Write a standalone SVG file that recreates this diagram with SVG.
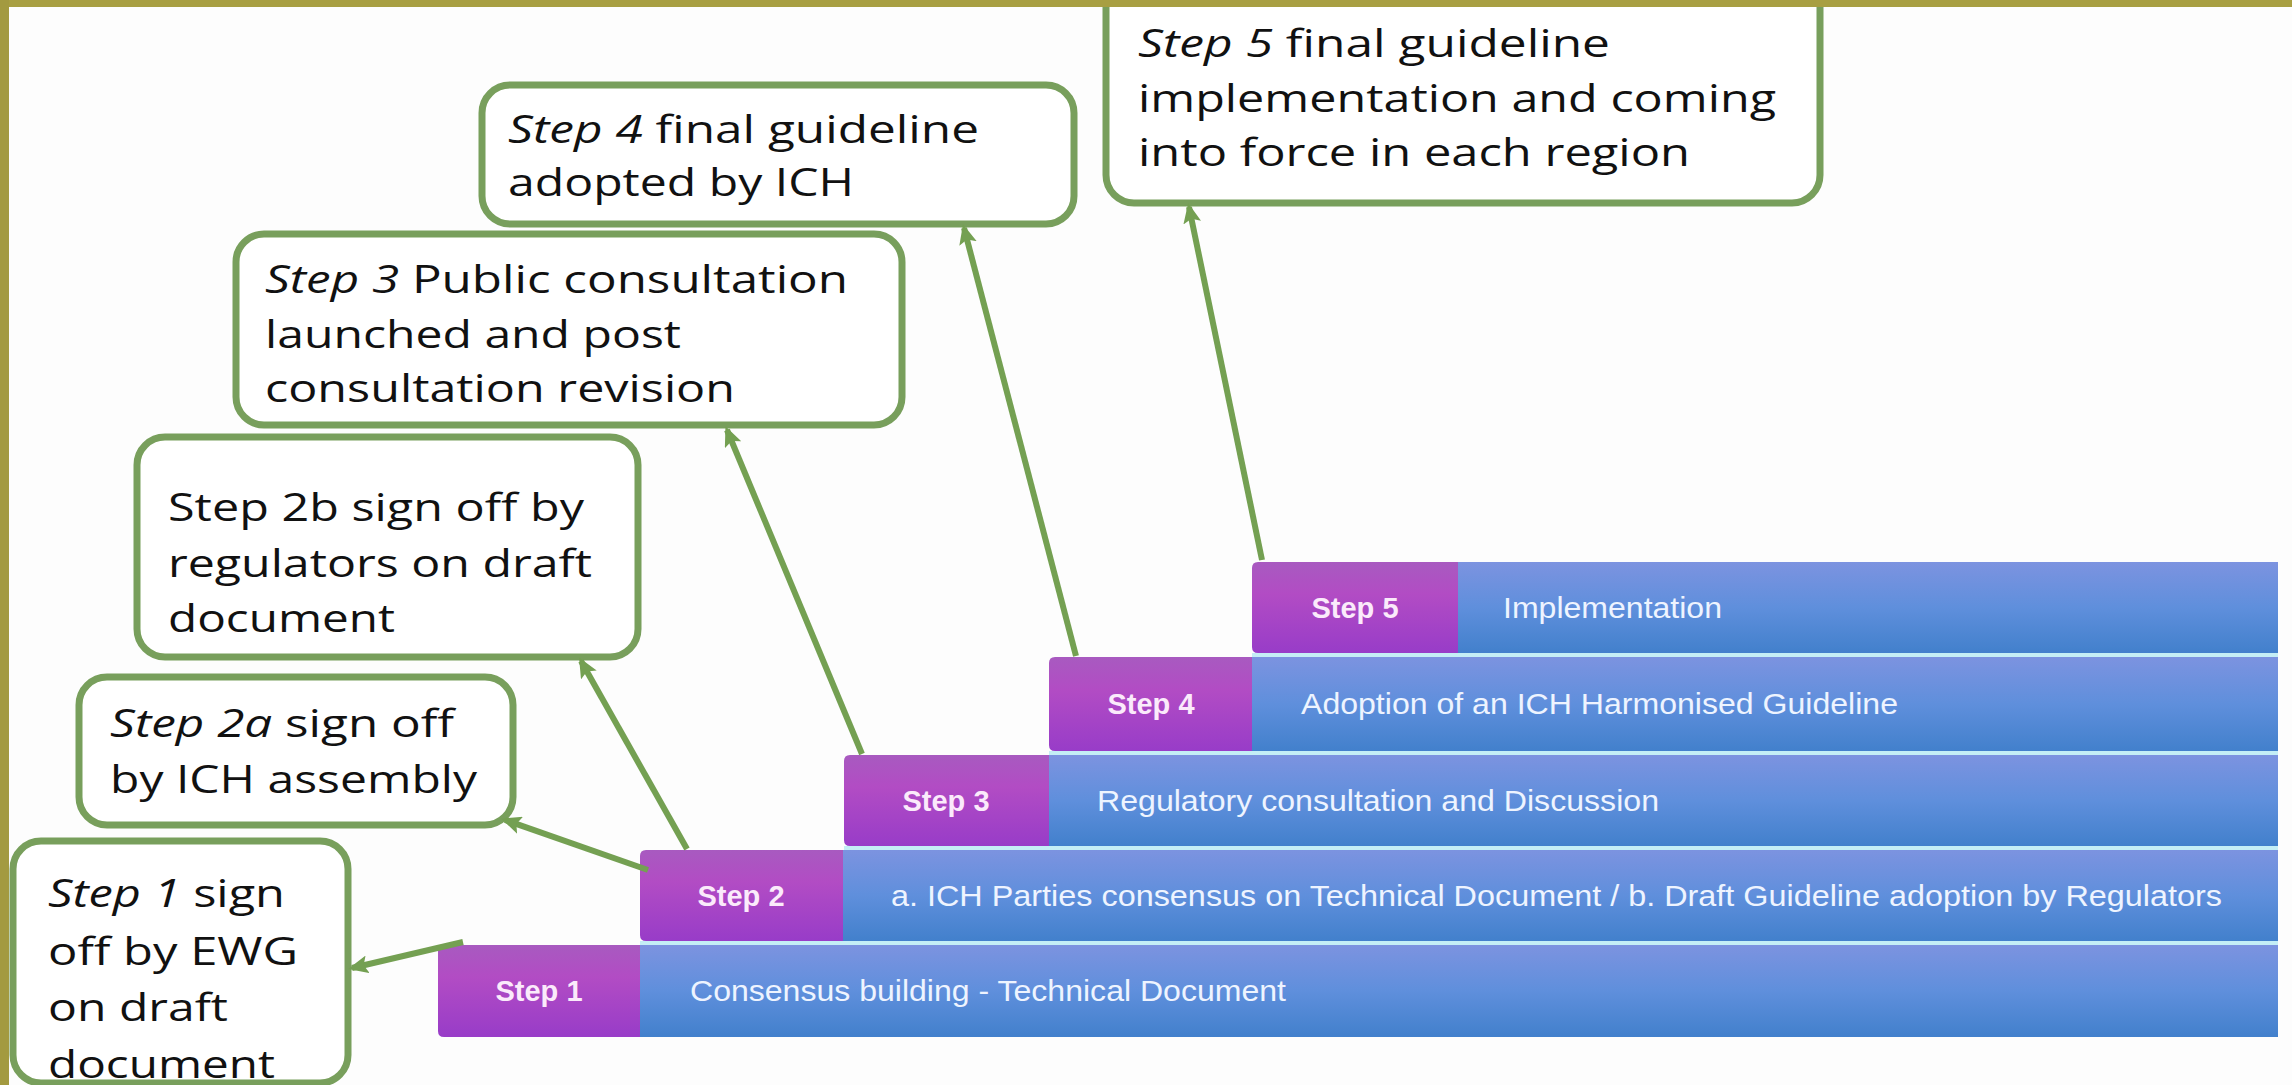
<svg xmlns="http://www.w3.org/2000/svg" width="2292" height="1085" viewBox="0 0 2292 1085">
<defs>
<linearGradient id="gBlue" x1="0" y1="0" x2="0" y2="1">
<stop offset="0" stop-color="#7c93e0"/>
<stop offset="0.5" stop-color="#5f8fdc"/>
<stop offset="1" stop-color="#4280cc"/>
</linearGradient>
<linearGradient id="gPurple" x1="0" y1="0" x2="0" y2="1">
<stop offset="0" stop-color="#a85ac0"/>
<stop offset="0.35" stop-color="#b24cc4"/>
<stop offset="1" stop-color="#983cc8"/>
</linearGradient>
<marker id="arr" markerUnits="userSpaceOnUse" markerWidth="20" markerHeight="18" refX="16" refY="9" orient="auto">
<path d="M0,0 L20,9 L0,18 L4,9 z" fill="#74a052"/>
</marker>
<style>
.box{fill:#ffffff;stroke:#789f5c;stroke-width:7}
.bt{font-family:"Open Sans","Liberation Sans",sans-serif;font-size:39px;fill:#111111}
.it{font-style:italic}
.blue{fill:url(#gBlue)}
.purp{fill:url(#gPurple)}
.gap{fill:#c4eef6}
.sl{font-family:"Liberation Sans",Arial,sans-serif;font-size:29px;font-weight:bold;fill:#fbeafb;text-anchor:middle}
.bl{font-family:"Liberation Sans",Arial,sans-serif;font-size:29px;fill:#eef4ff}
.con{stroke:#74a052;stroke-width:6;fill:none;marker-end:url(#arr)}
</style>
</defs>
<rect x="0" y="0" width="2292" height="1085" fill="#fdfdfd"/>

<g id="step1">
<rect class="blue" x="640" y="945" width="1638" height="92"/>
<path class="purp" d="M444,945 H640 V1037 H444 Q438,1037 438,1031 V951 Q438,945 444,945 Z"/>
<text class="sl" x="539" y="1001">Step 1</text>
<text class="bl" x="690" y="1001" textLength="596" lengthAdjust="spacingAndGlyphs">Consensus building - Technical Document</text>
</g>
<rect class="gap" x="640" y="941" width="1638" height="4"/>
<g id="step2">
<rect class="blue" x="843" y="850" width="1435" height="91"/>
<path class="purp" d="M646,850 H843 V941 H646 Q640,941 640,935 V856 Q640,850 646,850 Z"/>
<text class="sl" x="741" y="906">Step 2</text>
<text class="bl" x="891" y="906" textLength="1331" lengthAdjust="spacingAndGlyphs">a. ICH Parties consensus on Technical Document / b. Draft Guideline adoption by Regulators</text>
</g>
<rect class="gap" x="844" y="846" width="1434" height="4"/>
<g id="step3">
<rect class="blue" x="1049" y="755" width="1229" height="91"/>
<path class="purp" d="M850,755 H1049 V846 H850 Q844,846 844,840 V761 Q844,755 850,755 Z"/>
<text class="sl" x="946" y="811">Step 3</text>
<text class="bl" x="1097" y="811" textLength="562" lengthAdjust="spacingAndGlyphs">Regulatory consultation and Discussion</text>
</g>
<rect class="gap" x="1049" y="751" width="1229" height="4"/>
<g id="step4">
<rect class="blue" x="1252" y="657" width="1026" height="94"/>
<path class="purp" d="M1055,657 H1252 V751 H1055 Q1049,751 1049,745 V663 Q1049,657 1055,657 Z"/>
<text class="sl" x="1151" y="714">Step 4</text>
<text class="bl" x="1301" y="714" textLength="597" lengthAdjust="spacingAndGlyphs">Adoption of an ICH Harmonised Guideline</text>
</g>
<rect class="gap" x="1252" y="653" width="1026" height="4"/>
<g id="step5">
<rect class="blue" x="1458" y="562" width="820" height="91"/>
<path class="purp" d="M1258,562 H1458 V653 H1258 Q1252,653 1252,647 V568 Q1252,562 1258,562 Z"/>
<text class="sl" x="1355" y="618">Step 5</text>
<text class="bl" x="1503" y="618" textLength="219" lengthAdjust="spacingAndGlyphs">Implementation</text>
</g>

<g id="note5">
<rect class="box" x="1106" y="-25" width="714" height="228" rx="28"/>
<text class="bt" x="1138" y="57" textLength="472" lengthAdjust="spacingAndGlyphs"><tspan class="it">Step 5</tspan> final guideline</text>
<text class="bt" x="1138" y="112" textLength="638" lengthAdjust="spacingAndGlyphs">implementation and coming</text>
<text class="bt" x="1138" y="166" textLength="552" lengthAdjust="spacingAndGlyphs">into force in each region</text>
</g>
<g id="note4">
<rect class="box" x="482" y="85" width="592" height="139" rx="28"/>
<text class="bt" x="508" y="143" textLength="471" lengthAdjust="spacingAndGlyphs"><tspan class="it">Step 4</tspan> final guideline</text>
<text class="bt" x="508" y="196" textLength="346" lengthAdjust="spacingAndGlyphs">adopted by ICH</text>
</g>
<g id="note3">
<rect class="box" x="236" y="234" width="666" height="191" rx="28"/>
<text class="bt" x="265" y="293" textLength="583" lengthAdjust="spacingAndGlyphs"><tspan class="it">Step 3</tspan> Public consultation</text>
<text class="bt" x="265" y="348" textLength="416" lengthAdjust="spacingAndGlyphs">launched and post</text>
<text class="bt" x="265" y="402" textLength="470" lengthAdjust="spacingAndGlyphs">consultation revision</text>
</g>
<g id="note2b">
<rect class="box" x="137" y="437" width="501" height="220" rx="28"/>
<text class="bt" x="168" y="521" textLength="416" lengthAdjust="spacingAndGlyphs">Step 2b sign off by</text>
<text class="bt" x="168" y="577" textLength="424" lengthAdjust="spacingAndGlyphs">regulators on draft</text>
<text class="bt" x="168" y="632" textLength="227" lengthAdjust="spacingAndGlyphs">document</text>
</g>
<g id="note2a">
<rect class="box" x="79" y="677" width="434" height="148" rx="28"/>
<text class="bt" x="110" y="737" textLength="344" lengthAdjust="spacingAndGlyphs"><tspan class="it">Step 2a</tspan> sign off</text>
<text class="bt" x="110" y="793" textLength="367" lengthAdjust="spacingAndGlyphs">by ICH assembly</text>
</g>
<g id="note1">
<rect class="box" x="13" y="841" width="335" height="242" rx="28"/>
<text class="bt" x="48" y="907" textLength="237" lengthAdjust="spacingAndGlyphs"><tspan class="it">Step 1</tspan> sign</text>
<text class="bt" x="48" y="965" textLength="250" lengthAdjust="spacingAndGlyphs">off by EWG</text>
<text class="bt" x="48" y="1021" textLength="180" lengthAdjust="spacingAndGlyphs">on draft</text>
<text class="bt" x="48" y="1078" textLength="227" lengthAdjust="spacingAndGlyphs">document</text>
</g>

<g id="connectors">
<line class="con" x1="1262" y1="560" x2="1189" y2="207"/>
<line class="con" x1="1076" y1="656" x2="964" y2="228"/>
<line class="con" x1="862" y1="754" x2="727" y2="430"/>
<line class="con" x1="687" y1="849" x2="581" y2="661"/>
<line class="con" x1="648" y1="870" x2="505" y2="820"/>
<line class="con" x1="463" y1="942" x2="352" y2="968"/>
</g>

<rect x="0" y="0" width="2292" height="7" fill="#a89f42"/>
<rect x="0" y="0" width="9" height="1085" fill="#a39a40"/>
</svg>
